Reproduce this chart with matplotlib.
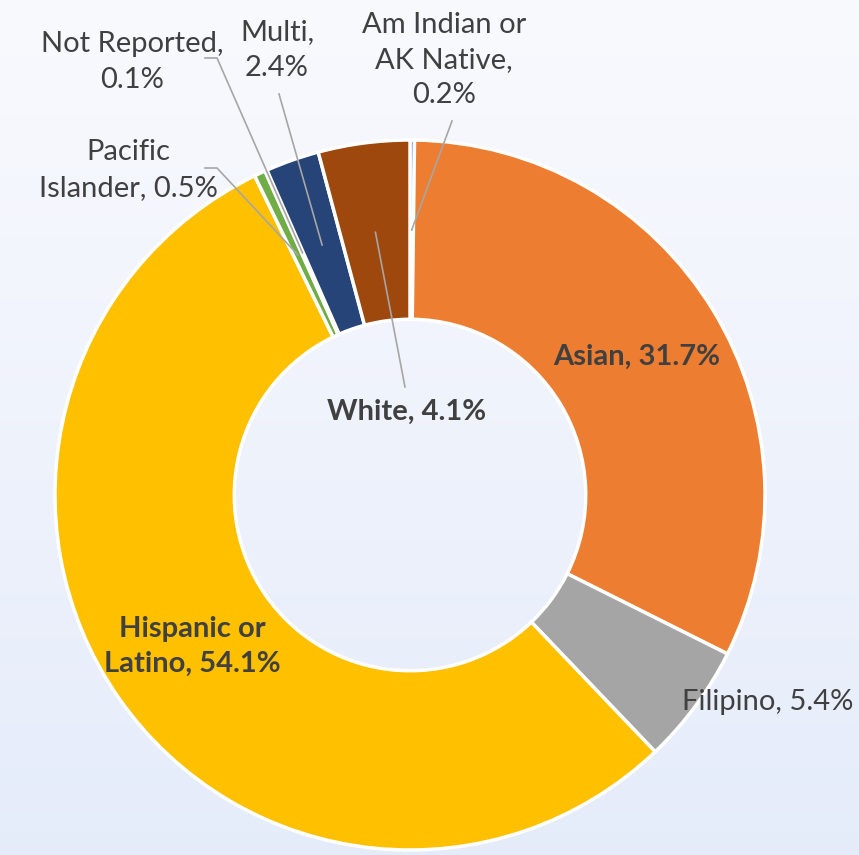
import numpy as np
import matplotlib
matplotlib.use("Agg")
import matplotlib.pyplot as plt

plt.rcParams["font.family"] = ["Lato", "DejaVu Sans"]

# data (clockwise from 12 o'clock)
groups = ["Am Indian or\nAK Native", "Asian", "Filipino", "Hispanic or\nLatino",
          "Pacific\nIslander", "Not Reported", "Multi", "White"]
shares = [0.2, 31.7, 5.4, 54.1, 0.5, 0.1, 2.4, 4.1]
colors = ["#4472C4", "#ED7D31", "#A5A5A5", "#FFC000",
          "#70AD47", "#5B9BD5", "#264478", "#9E480E"]

W, H = 859, 855
fig = plt.figure(figsize=(W / 100, H / 100), dpi=100)

# soft background gradient
bg = fig.add_axes([0, 0, 1, 1], zorder=-1)
grad = np.linspace(0, 1, 256)[:, None]
top = np.array([0.976, 0.980, 0.996])
bot = np.array([0.898, 0.925, 0.980])
img = top + (bot - top) * grad[:, :, None]
bg.imshow(np.repeat(img, 2, axis=1), aspect="auto", extent=[0, 1, 0, 1])
bg.axis("off")

ax = fig.add_axes([0, 0, 1, 1])
ax.patch.set_alpha(0)
cx, cy, R = 410, H - 495, 355
wedges, _ = ax.pie(shares, colors=colors, startangle=90, counterclock=False,
                   radius=R, center=(cx, cy),
                   wedgeprops=dict(width=R * 0.505, edgecolor="white", linewidth=2.5))
ax.set_xlim(0, W)
ax.set_ylim(0, H)
ax.set_aspect("equal")
ax.axis("off")

txt = "#404040"
line_c = "#A6A6A6"
fs = 21
ls = 1.45


def ring_point(w, r=265):
    a = np.deg2rad((w.theta1 + w.theta2) / 2)
    return cx + r * np.cos(a), cy + r * np.sin(a)


def label(i):
    return f"{groups[i]}, {shares[i]}%"


# labels inside ring
for i in (1, 3):
    x, y = ring_point(wedges[i])
    ax.text(x, y, label(i), ha="center", va="center", fontsize=fs,
            fontweight="bold", color=txt, linespacing=ls)

# Filipino outside, no leader
ax.text(768, H - 702, label(2), ha="center", va="center", fontsize=fs, color=txt)

# White: bold label in the hole with leader
ax.text(407, H - 412, label(7), ha="center", va="center", fontsize=fs,
        fontweight="bold", color=txt)
x, y = ring_point(wedges[7])
ax.plot([405, x], [H - 387, y], color=line_c, lw=1.2)

# outside labels with leaders
ax.text(444, H - 60, "Am Indian or\nAK Native,\n0.2%", ha="center", va="center",
        fontsize=fs, color=txt, linespacing=ls)
x, y = ring_point(wedges[0])
ax.plot([452, x], [H - 121, y], color=line_c, lw=1.2)

ax.text(277, H - 50, "Multi,\n2.4%", ha="center", va="center",
        fontsize=fs, color=txt, linespacing=ls)
x, y = ring_point(wedges[6])
ax.plot([279, x], [H - 94, y], color=line_c, lw=1.2)

ax.text(132, H - 62, "Not Reported,\n0.1%", ha="center", va="center",
        fontsize=fs, color=txt, linespacing=ls)
x, y = ring_point(wedges[5])
ax.plot([205, 217, x], [H - 58, H - 58, y], color=line_c, lw=1.2)

ax.text(128, H - 170, "Pacific\nIslander, 0.5%", ha="center", va="center",
        fontsize=fs, color=txt, linespacing=ls)
x, y = ring_point(wedges[4])
ax.plot([205, 217, x], [H - 168, H - 168, y], color=line_c, lw=1.2)

fig.savefig("out.png", dpi=100)
